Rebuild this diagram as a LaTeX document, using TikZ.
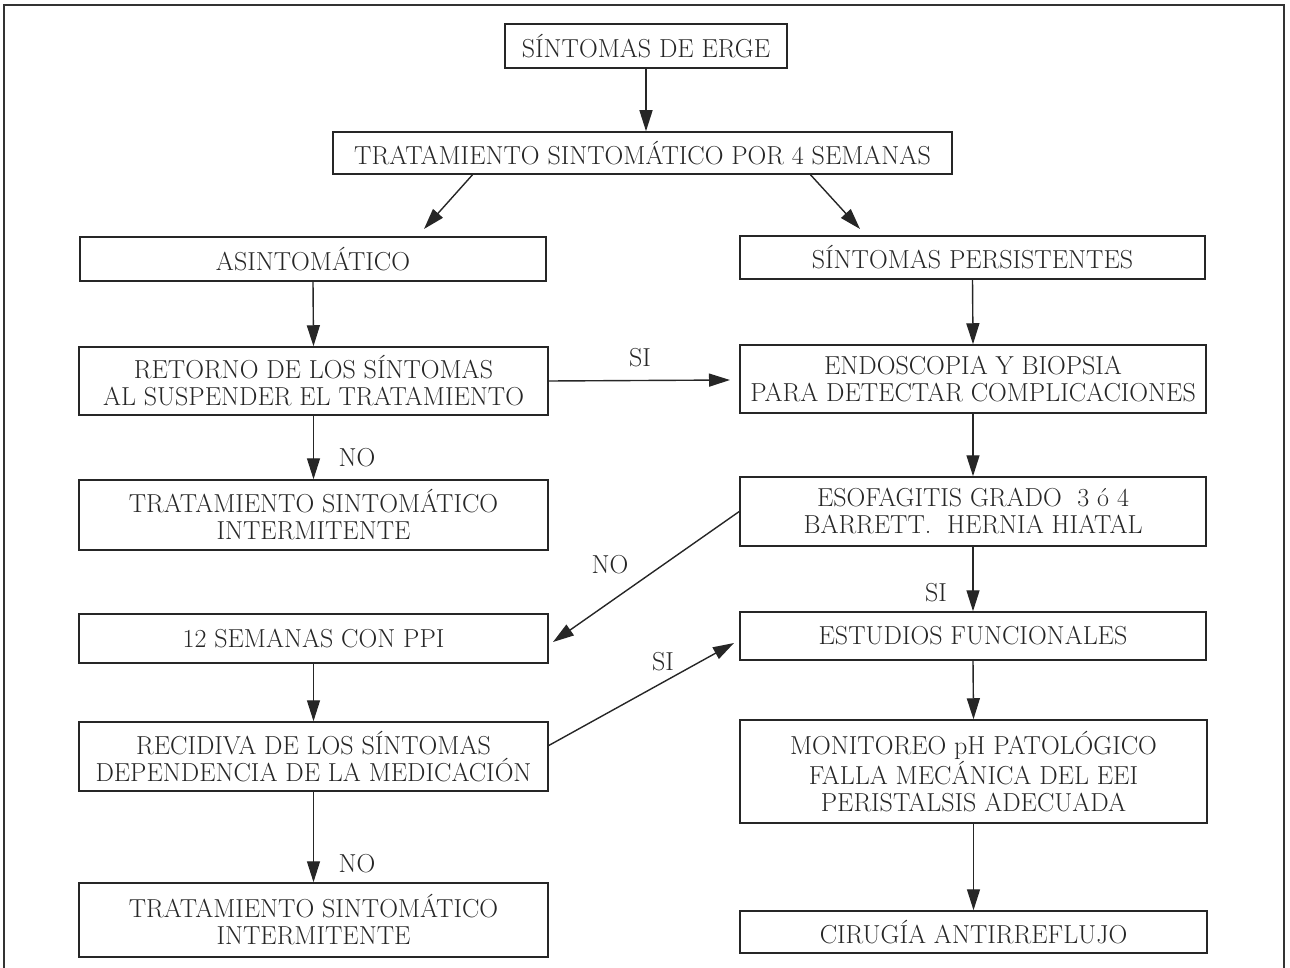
\documentclass[tikz,border=0pt]{standalone}
\usetikzlibrary{arrows.meta}
\begin{document}
\begin{tikzpicture}[x=1pt,y=-1pt,
  box/.style={draw=black!85, line width=1.5pt, inner sep=0pt, align=center,
    font=\fontsize{26}{27}\selectfont, text=black!85},
  lbl/.style={font=\fontsize{26}{27}\selectfont, text=black!85, inner sep=0pt},
  arr/.style={draw=black!85, line width=1.4pt, -{Triangle[length=21pt,width=13pt]}}]
\useasboundingbox (0,0) rectangle (1290,968);
\draw[line width=1.6pt, black!80] (4,968) -- (4,5) -- (1284,5) -- (1284,968);

\node[box, minimum width=282, minimum height=44] (erge) at (646,46) {SÍNTOMAS DE ERGE};
\node[box, minimum width=619, minimum height=42] (trat) at (642.5,153) {TRATAMIENTO SINTOMÁTICO POR 4 SEMANAS};
\node[box, minimum width=466, minimum height=44] (asin) at (313,259) {ASINTOMÁTICO};
\node[box, minimum width=465, minimum height=43] (sp) at (972.5,257.5) {SÍNTOMAS PERSISTENTES};
\node[box, minimum width=469, minimum height=68] (ret) at (313.5,381) {RETORNO DE LOS SÍNTOMAS\\AL SUSPENDER EL TRATAMIENTO};
\node[box, minimum width=466, minimum height=68] (endo) at (973,379) {ENDOSCOPIA Y BIOPSIA\\PARA DETECTAR COMPLICACIONES};
\node[box, minimum width=469, minimum height=70] (tia) at (313.5,515) {TRATAMIENTO SINTOMÁTICO\\INTERMITENTE};
\node[box, minimum width=466, minimum height=69] (esof) at (973,511.5) {ESOFAGITIS GRADO \ 3 ó 4\\BARRETT. \ HERNIA HIATAL};
\node[box, minimum width=469, minimum height=49] (sem) at (313.5,638.5) {12 SEMANAS CON PPI};
\node[box, minimum width=466, minimum height=48] (ef) at (973,636) {ESTUDIOS FUNCIONALES};
\node[box, minimum width=469, minimum height=69] (rec) at (313.5,756.5) {RECIDIVA DE LOS SÍNTOMAS\\DEPENDENCIA DE LA MEDICACIÓN};
\node[box, minimum width=467, minimum height=103] (mon) at (973.5,771.5) {MONITOREO pH PATOLÓGICO\\FALLA MECÁNICA DEL EEI\\PERISTALSIS ADECUADA};
\node[box, minimum width=469, minimum height=74] (tib) at (313.5,920) {TRATAMIENTO SINTOMÁTICO\\INTERMITENTE};
\node[box, minimum width=467, minimum height=42] (cir) at (973.5,932) {CIRUGÍA ANTIRREFLUJO};

\coordinate (tl) at (424,229);
\coordinate (tr) at (860,229);
\coordinate (semtip) at (553,642);
\coordinate (eftip) at (734,643);
\coordinate (rettip) at (730,380);

\draw[arr] (erge.south) -- (erge.south |- trat.north);
\draw[arr] ([xshift=-170pt]trat.south) -- (tl);
\draw[arr] ([xshift=168pt]trat.south) -- (tr);
\draw[arr] (asin.south) -- (ret.north);
\draw[arr] (sp.south) -- (endo.north);
\draw[arr] (ret.east) -- (rettip);
\draw[arr] (ret.south) -- (tia.north);
\draw[arr] (endo.south) -- (esof.north);
\draw[arr] (esof.west) -- (semtip);
\draw[arr] (esof.south) -- (ef.north);
\draw[arr] (sem.south) -- (rec.north);
\draw[arr] ([yshift=11pt]rec.east) -- (eftip);
\draw[arr] (ef.south) -- (mon.north);
\draw[arr] (rec.south) -- (tib.north);
\draw[arr] (mon.south) -- (cir.north);

\node[lbl] (l1) at (640,358) {SI};
\node[lbl] (l2) at (357,458) {NO};
\node[lbl] (l3) at (610,565) {NO};
\node[lbl] (l4) at (936,593) {SI};
\node[lbl] (l5) at (663,662) {SI};
\node[lbl] (l6) at (357,864) {NO};
\end{tikzpicture}
\end{document}
